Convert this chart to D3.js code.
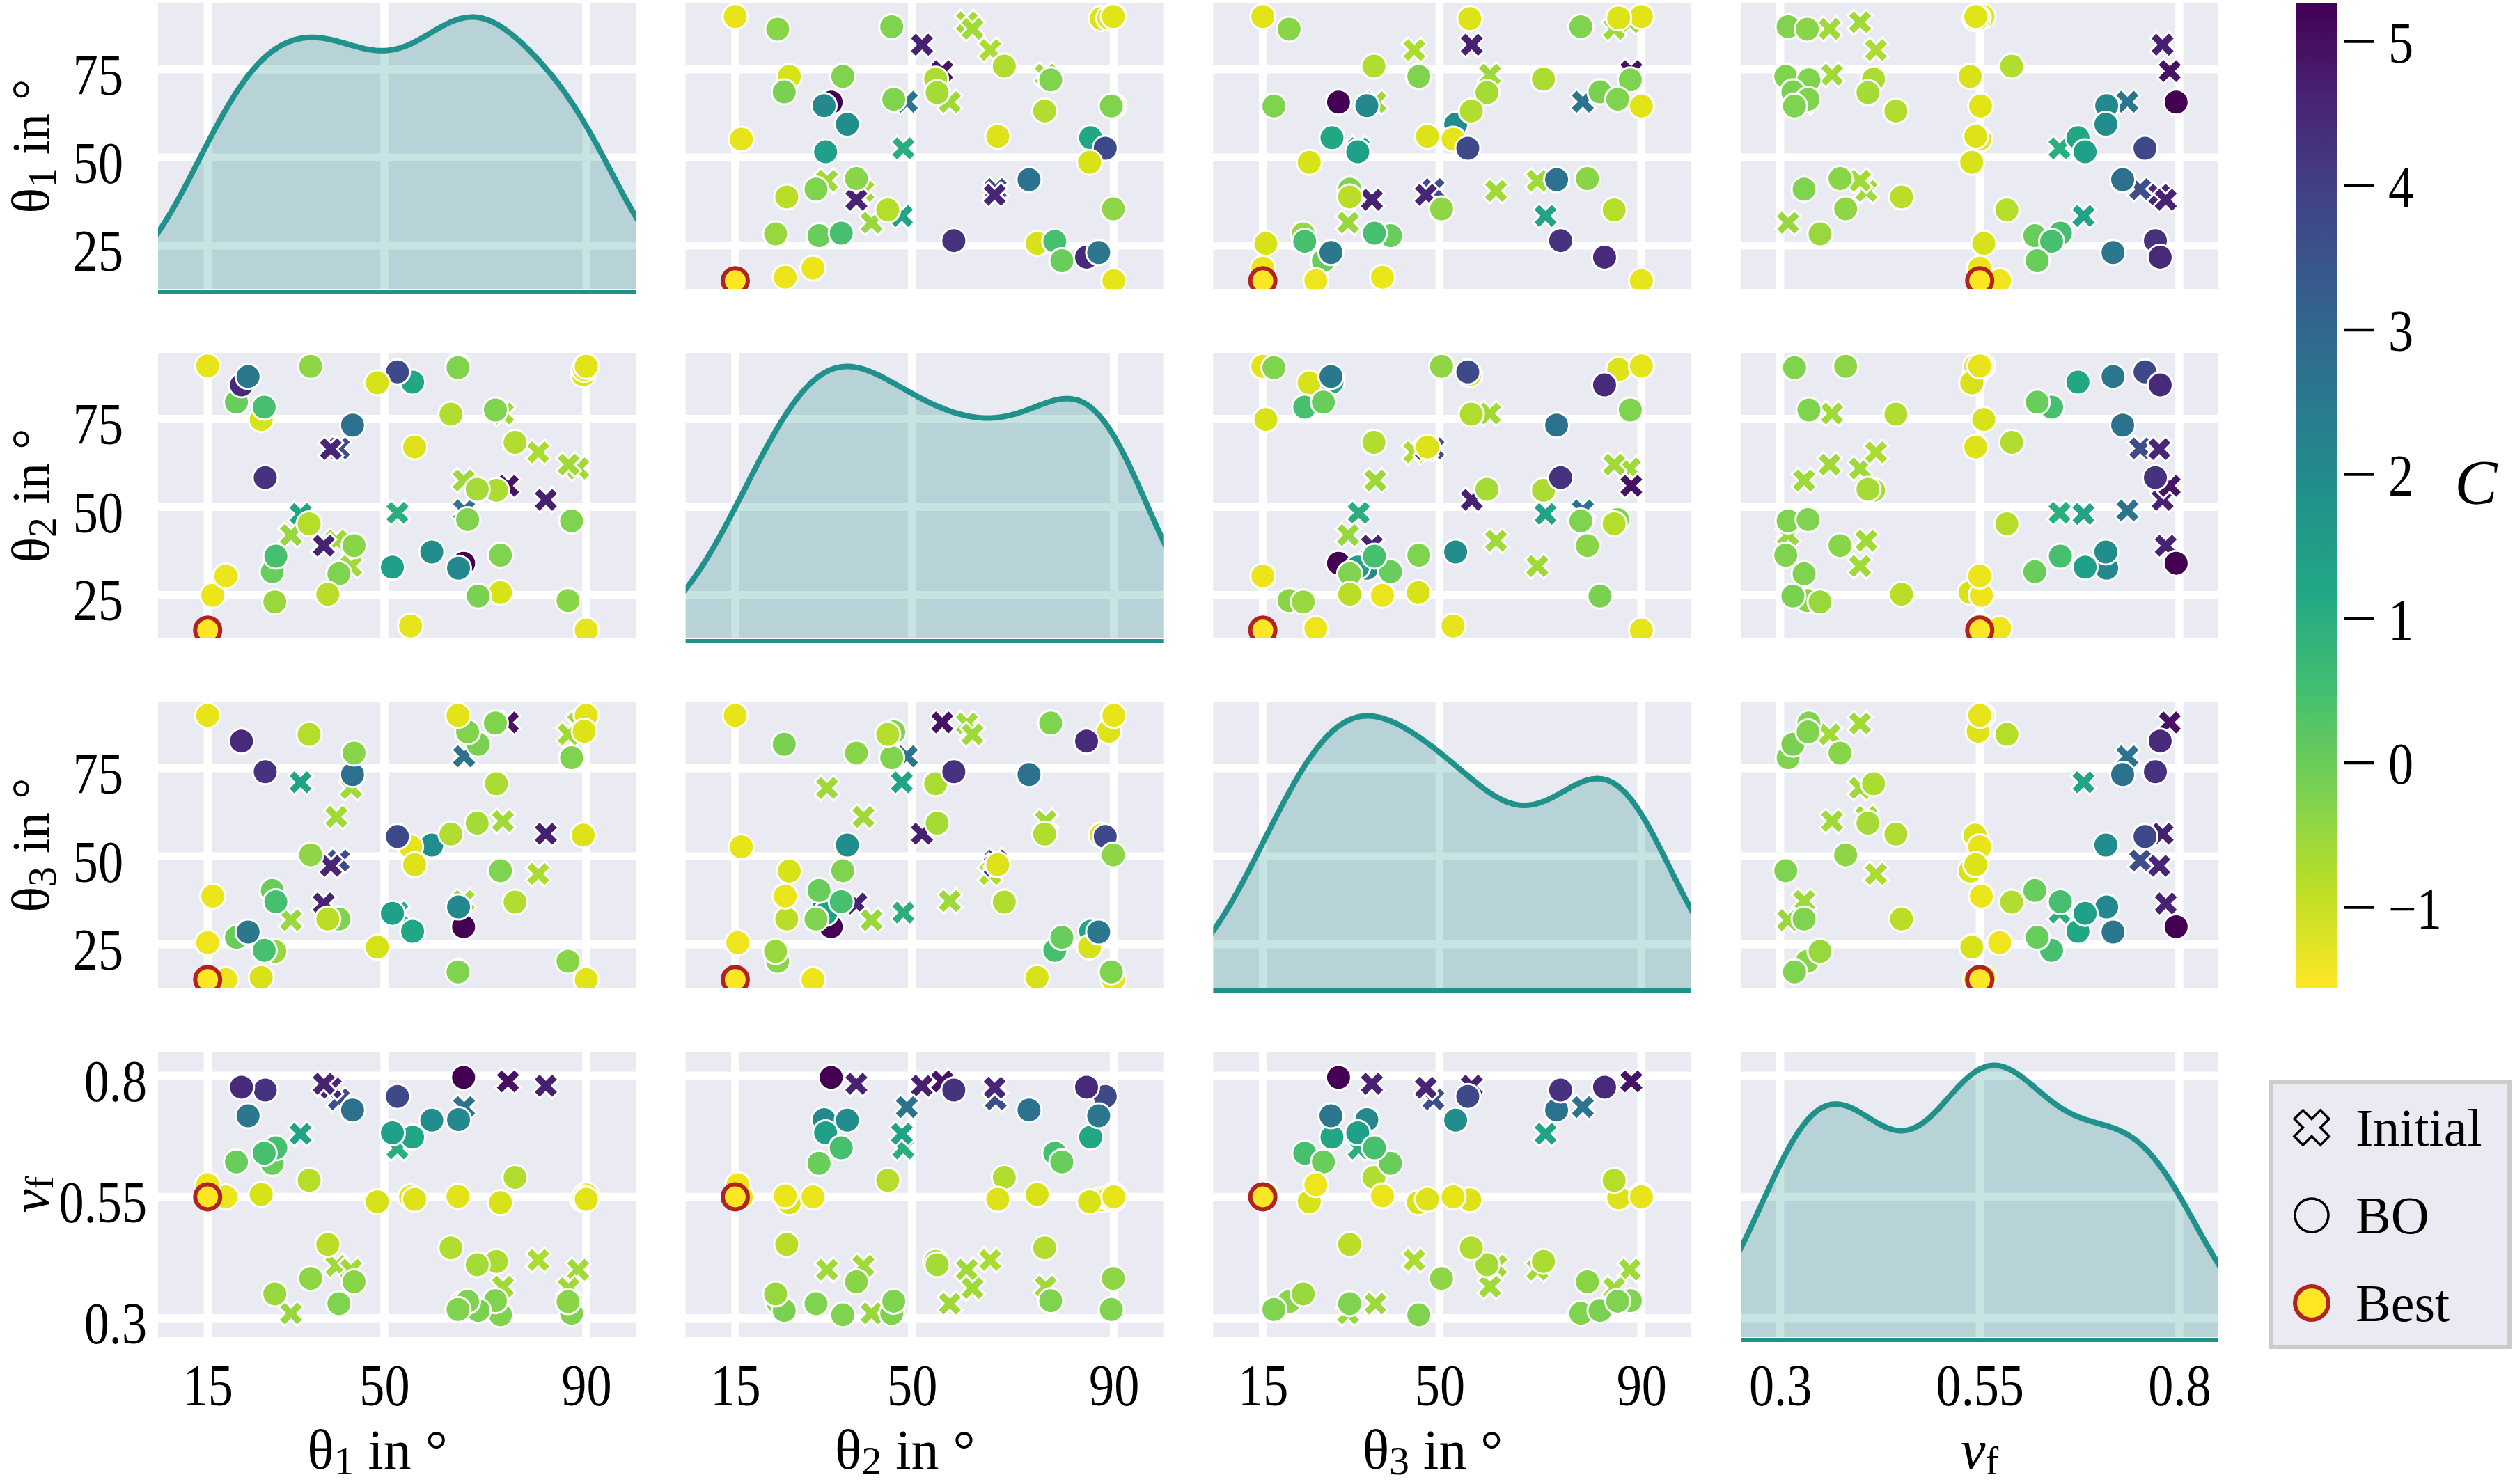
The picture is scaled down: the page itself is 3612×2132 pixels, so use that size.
<!DOCTYPE html>
<html>
<head>
<meta charset="utf-8">
<script src="https://cdn.jsdelivr.net/npm/d3@7/dist/d3.min.js"></script>
<style>
  body { margin: 0; background: #ffffff; }
  text { font-family: "Liberation Serif", "DejaVu Serif", serif; fill: #000000; }
</style>
</head>
<body>
<div class="chart"></div>
<script>

// one entry per evaluated design: 16 initial samples, 46 BO iterations, best one last
var kind = [
    "Initial", "Initial", "Initial", "Initial", "Initial", "Initial", "Initial", "Initial",
    "Initial", "Initial", "Initial", "Initial", "Initial", "Initial", "Initial", "Initial",
    "BO", "BO", "BO", "BO", "BO", "BO", "BO", "BO", "BO", "BO",
    "BO", "BO", "BO", "BO", "BO", "BO", "BO", "BO", "BO", "BO",
    "BO", "BO", "BO", "BO", "BO", "BO", "BO", "BO", "BO", "BO",
    "BO", "BO", "BO", "BO", "BO", "BO", "BO", "BO", "BO", "BO",
    "BO", "BO", "BO", "BO", "BO", "BO",
    "Best"
];
var theta1 = [
    88.4, 86.5, 82.0, 80.5, 74.5, 73.5, 65.8, 65.7, 52.6, 41.0, 39.4, 40.5, 43.4, 38.0, 33.4, 31.5,
    90.0, 89.4, 90.0, 89.6, 90.0, 87.1, 86.4, 75.9, 73.0, 73.0,
    72.0, 72.2, 68.6, 68.4, 65.7, 64.7, 59.4, 66.5, 64.6, 64.6,
    63.2, 55.2, 56.0, 55.6, 52.6, 48.6, 51.6, 43.7, 44.0, 41.0,
    38.8, 35.4, 35.1, 28.3, 27.8, 28.5, 26.4, 25.6, 26.2, 20.7,
    21.7, 23.0, 16.0, 18.6, 15.0, 15.0,
    15.0
];
var theta2 = [
    60.9, 62.0, 52.0, 65.5, 56.0, 76.5, 49.0, 57.5, 48.3, 66.6, 66.4, 40.4, 33.2, 39.0, 48.0, 42.0,
    15.0, 87.5, 90.0, 89.0, 89.9, 46.0, 23.4, 68.3, 25.7, 36.3,
    77.5, 54.7, 24.7, 55.0, 34.0, 32.6, 37.2, 46.4, 90.0, 89.5,
    76.3, 16.2, 67.0, 85.4, 88.3, 85.2, 32.9, 73.2, 39.0, 31.0,
    25.2, 89.9, 45.2, 23.0, 31.6, 36.0, 58.3, 74.8, 78.3, 79.7,
    84.6, 87.0, 24.9, 30.4, 90.0, 15.5,
    15.0
];
var theta3 = [
    87.7, 84.6, 56.4, 45.0, 88.0, 60.0, 78.4, 37.3, 34.0, 48.8, 47.3, 61.2, 69.4, 36.6, 71.0, 31.9,
    90.0, 56.0, 90.0, 85.5, 15.0, 78.0, 20.2, 37.0, 45.8, 45.9,
    87.8, 70.6, 81.8, 59.4, 30.0, 35.6, 53.2, 85.3, 90.0, 17.2,
    56.3, 52.7, 47.6, 28.7, 55.6, 24.2, 33.8, 73.2, 79.3, 32.2,
    32.2, 50.4, 84.6, 23.0, 40.3, 37.1, 74.0, 15.6, 23.3, 27.0,
    82.7, 28.5, 38.7, 15.0, 90.0, 25.5,
    15.0
];
var vf = [
    0.400, 0.362, 0.779, 0.420, 0.788, 0.365, 0.735, 0.330, 0.650, 0.751, 0.775, 0.408, 0.400, 0.783, 0.680, 0.310,
    0.550, 0.544, 0.554, 0.548, 0.545, 0.310, 0.334, 0.590, 0.538, 0.307,
    0.336, 0.417, 0.316, 0.410, 0.796, 0.709, 0.708, 0.335, 0.551, 0.318,
    0.445, 0.550, 0.545, 0.673, 0.757, 0.540, 0.682, 0.729, 0.375, 0.330,
    0.452, 0.382, 0.584, 0.350, 0.619, 0.651, 0.770, 0.555, 0.640, 0.622,
    0.776, 0.717, 0.552, 0.550, 0.550, 0.575,
    0.550
];
var cost = [
    -0.60, -0.60, 4.65, -0.70, 4.95, -0.60, 2.67, -0.55, 0.95, 3.65, 4.55, -0.60, -0.60, 4.60, 1.30, -0.50,
    -1.30, -1.20, -1.25, -1.20, -1.25, -0.25, -0.35, -0.75, -1.15, -0.25,
    -0.25, -0.70, -0.20, -0.65, 5.26, 2.05, 1.95, -0.25, -1.25, -0.25,
    -0.75, -1.30, -1.20, 1.20, 3.75, -1.15, 1.40, 2.70, -0.35, -0.25,
    -0.85, -0.40, -0.80, -0.50, 0.00, 0.45, 4.30, -1.15, 0.45, 0.00,
    4.45, 2.55, -1.35, -1.35, -1.30, -1.40,
    -1.56
];

var xTicks = [[15, 50, 90], [15, 50, 90], [15, 50, 90], [0.3, 0.55, 0.8]];
var yTicks = [[25, 50, 75], [25, 50, 75], [25, 50, 75], [0.3, 0.55, 0.8]];
var cbarTicks = [-1, 0, 1, 2, 3, 4, 5];
var legendLabels = ["Initial", "BO", "Best"];

// axis limits (columns follow the diagonal kde, rows the scatter autoscale)
var xLimits = [[5.17, 99.8], [5.17, 99.8], [5.17, 99.8], [0.2507, 0.849]];
var yLimits = [[12.7, 93.7], [12.7, 93.7], [12.7, 93.7], [0.261, 0.849]];

var svgWidth = 3612;
var svgHeight = 2132;
var panelW = 686;
var panelH = 410;
var colStep = 757.7;
var rowStep = 502;
var left0 = 227;
var top0 = 5;
var kdeColor = "#21918c";
var tickSize = 84;

var vars = [theta1, theta2, theta3, vf];
var n = cost.length;

var svg = d3.select(".chart")
    .append("svg")
    .attr("width", svgWidth)
    .attr("height", svgHeight);

var defs = svg.append("defs");

var costExtent = d3.extent(cost);
var color = d3.scaleSequential(d3.interpolateViridis)
    .domain([costExtent[1], costExtent[0]]);

var xScales = xLimits.map(function(lim) {
    return d3.scaleLinear().domain(lim).range([0, panelW]);
});
var yScales = yLimits.map(function(lim) {
    return d3.scaleLinear().domain(lim).range([panelH, 0]);
});

// filled X marker, same outline as matplotlib's "X"
var symbolX = {
    draw: function(context, size) {
        var s = Math.sqrt(size);
        var pts = [[-0.25, -0.5], [0, -0.25], [0.25, -0.5], [0.5, -0.25], [0.25, 0], [0.5, 0.25],
                   [0.25, 0.5], [0, 0.25], [-0.25, 0.5], [-0.5, 0.25], [-0.25, 0], [-0.5, -0.25]];
        context.moveTo(pts[0][0] * s, pts[0][1] * s);
        for (var i = 1; i < pts.length; i++) {
            context.lineTo(pts[i][0] * s, pts[i][1] * s);
        }
        context.closePath();
    }
};

var circlePath = d3.symbol().type(d3.symbolCircle).size(Math.PI * 18 * 18);
var xPath = d3.symbol().type(symbolX).size(36 * 36);

function kdeCurve(values) {
    var bw = d3.deviation(values) * Math.pow(values.length, -1 / 5);
    var lo = d3.min(values) - 3 * bw;
    var hi = d3.max(values) + 3 * bw;
    return d3.range(0, 401).map(function(k) {
        var x = lo + (hi - lo) * k / 400;
        var dens = d3.mean(values, function(v) {
            var z = (x - v) / bw;
            return Math.exp(-0.5 * z * z);
        }) / (bw * Math.sqrt(2 * Math.PI));
        return [x, dens];
    });
}

for (var i = 0; i < 4; i++) {
    for (var j = 0; j < 4; j++) {
        drawCell(i, j);
    }
}

function drawCell(i, j) {
    var x = xScales[j];
    var y = yScales[i];
    var cell = svg.append("g")
        .attr("transform", "translate(" + (left0 + j * colStep) + "," + (top0 + i * rowStep) + ")");

    var clipId = "clip-" + i + "-" + j;
    defs.append("clipPath").attr("id", clipId)
        .append("rect").attr("width", panelW).attr("height", panelH);

    cell.append("rect")
        .attr("width", panelW)
        .attr("height", panelH)
        .attr("fill", "#eaeaf2");

    cell.selectAll(".vgrid")
        .data(xTicks[j])
        .enter()
        .append("line")
        .attr("x1", function(d) { return x(d); })
        .attr("x2", function(d) { return x(d); })
        .attr("y1", 0)
        .attr("y2", panelH)
        .attr("stroke", "#ffffff")
        .attr("stroke-width", 11.5);

    cell.selectAll(".hgrid")
        .data(yTicks[i])
        .enter()
        .append("line")
        .attr("x1", 0)
        .attr("x2", panelW)
        .attr("y1", function(d) { return y(d); })
        .attr("y2", function(d) { return y(d); })
        .attr("stroke", "#ffffff")
        .attr("stroke-width", 11.5);

    var plot = cell.append("g").attr("clip-path", "url(#" + clipId + ")");

    if (i === j) {
        var curve = kdeCurve(vars[j]);
        var yDens = d3.scaleLinear()
            .domain([0, d3.max(curve, function(d) { return d[1]; }) * 1.05])
            .range([panelH, 0]);

        plot.append("path")
            .datum(curve)
            .attr("fill", kdeColor)
            .attr("fill-opacity", 0.25)
            .attr("d", d3.area()
                .x(function(d) { return x(d[0]); })
                .y0(panelH)
                .y1(function(d) { return yDens(d[1]); }));

        plot.append("path")
            .datum(curve)
            .attr("fill", "none")
            .attr("stroke", kdeColor)
            .attr("stroke-width", 8)
            .attr("d", d3.line()
                .x(function(d) { return x(d[0]); })
                .y(function(d) { return yDens(d[1]); }));

        cell.append("line")
            .attr("x1", 0)
            .attr("x2", panelW)
            .attr("y1", panelH + 4)
            .attr("y2", panelH + 4)
            .attr("stroke", kdeColor)
            .attr("stroke-width", 6);
        return;
    }

    var idx = d3.range(n);
    plot.selectAll(".mark")
        .data(idx)
        .enter()
        .append("path")
        .attr("transform", function(k) {
            return "translate(" + x(vars[j][k]) + "," + y(vars[i][k]) + ")";
        })
        .attr("d", function(k) { return kind[k] === "Initial" ? xPath() : circlePath(); })
        .attr("fill", function(k) { return color(cost[k]); })
        .attr("stroke", function(k) { return kind[k] === "Best" ? "#b22222" : "#ffffff"; })
        .attr("stroke-width", function(k) { return kind[k] === "Best" ? 6 : 3; })
        .attr("stroke-linejoin", "miter");
}

// tick labels on the outer panels, set a little narrow like the original
function styleAxis(g) {
    g.attr("font-family", null).attr("font-size", tickSize);
    g.select(".domain").remove();
    g.selectAll("text").each(function() {
        var w = this.getComputedTextLength();
        d3.select(this)
            .attr("textLength", w * 0.86)
            .attr("lengthAdjust", "spacingAndGlyphs");
    });
}

function numLabel(d) {
    return d < 0 ? "\u2212" + Math.abs(d) : String(d);
}

for (var c = 0; c < 4; c++) {
    var bottomAxis = d3.axisBottom(xScales[c])
        .tickValues(xTicks[c])
        .tickSize(0)
        .tickPadding(38)
        .tickFormat(numLabel);
    svg.append("g")
        .attr("transform", "translate(" + (left0 + c * colStep) + "," + (top0 + 3 * rowStep + panelH) + ")")
        .call(bottomAxis)
        .call(styleAxis);
}

for (var r = 0; r < 4; r++) {
    var leftAxis = d3.axisLeft(yScales[r])
        .tickValues(yTicks[r])
        .tickSize(0)
        .tickPadding(r === 3 ? 16 : 50)
        .tickFormat(numLabel);
    svg.append("g")
        .attr("transform", "translate(" + left0 + "," + (top0 + r * rowStep) + ")")
        .call(leftAxis)
        .call(styleAxis)
        .selectAll("text")
        .attr("dy", "0.43em");
}

// axis titles
function addTitle(sel, sub, shift) {
    if (sub === "f") {
        sel.append("tspan").attr("font-style", "italic").text("v");
        sel.append("tspan").attr("dy", shift).attr("font-size", 56).text("f");
        return;
    }
    sel.append("tspan").text("\u03b8");
    sel.append("tspan").attr("dy", shift).attr("font-size", 58).text(sub);
    sel.append("tspan").attr("dy", -shift).text(" in \u00b0");
}
var titleSubs = ["1", "2", "3", "f"];

titleSubs.forEach(function(sub, k) {
    var cx = left0 + k * colStep + panelW / 2 + (sub === "f" ? 0 : -28);
    var t = svg.append("text")
        .attr("x", cx)
        .attr("y", 2110)
        .attr("text-anchor", "middle")
        .attr("font-size", 80);
    addTitle(t, sub, 8);

    var cy = top0 + k * rowStep + panelH / 2;
    var ty = svg.append("text")
        .attr("transform", "translate(70," + cy + ") rotate(-90)")
        .attr("text-anchor", "middle")
        .attr("font-size", 76);
    addTitle(ty, sub, sub === "f" ? 6 : 10);
});

// colorbar
var cbarTop = 5;
var cbarBottom = top0 + 2 * rowStep + panelH;
var grad = defs.append("linearGradient")
    .attr("id", "cbar")
    .attr("x1", 0).attr("y1", 0).attr("x2", 0).attr("y2", 1);
d3.range(0, 11).forEach(function(k) {
    grad.append("stop")
        .attr("offset", k / 10)
        .attr("stop-color", d3.interpolateViridis(k / 10));
});

svg.append("rect")
    .attr("x", 3297)
    .attr("y", cbarTop)
    .attr("width", 59)
    .attr("height", cbarBottom - cbarTop)
    .attr("fill", "url(#cbar)");

var cbarScale = d3.scaleLinear()
    .domain(costExtent)
    .range([cbarBottom, cbarTop]);

var cbarAxis = d3.axisRight(cbarScale)
    .tickValues(cbarTicks)
    .tickSize(44)
    .tickPadding(20)
    .tickFormat(numLabel);

var cbarG = svg.append("g")
    .attr("transform", "translate(3366,0)")
    .call(cbarAxis)
    .call(styleAxis);
cbarG.selectAll("line").attr("stroke", "#000000").attr("stroke-width", 4.5);
cbarG.selectAll("text").attr("dy", "0.36em");

svg.append("text")
    .attr("x", 3556)
    .attr("y", 724)
    .attr("text-anchor", "middle")
    .attr("font-size", 92)
    .attr("font-style", "italic")
    .text("C");

// legend
var legend = svg.append("g").attr("transform", "translate(3262,1555)");
legend.append("rect")
    .attr("width", 342)
    .attr("height", 380)
    .attr("fill", "#eaeaf2")
    .attr("stroke", "#cccccc")
    .attr("stroke-width", 6);

var legendRows = legend.selectAll(".entry")
    .data(legendLabels)
    .enter()
    .append("g")
    .attr("transform", function(d, k) { return "translate(0," + (65 + k * 126) + ")"; });

legendRows.append("path")
    .attr("transform", "translate(58,0)")
    .attr("d", function(d) {
        return d === "Initial"
            ? d3.symbol().type(symbolX).size(50 * 50)()
            : d3.symbol().type(d3.symbolCircle).size(Math.PI * 24 * 24)();
    })
    .attr("fill", function(d) { return d === "Best" ? color(costExtent[0]) : "none"; })
    .attr("stroke", function(d) { return d === "Best" ? "#b22222" : "#000000"; })
    .attr("stroke-width", function(d) { return d === "Best" ? 6 : 3.5; });

legendRows.append("text")
    .attr("x", 121)
    .attr("y", 26)
    .attr("font-size", 76)
    .text(function(d) { return d; });

</script>
</body>
</html>
